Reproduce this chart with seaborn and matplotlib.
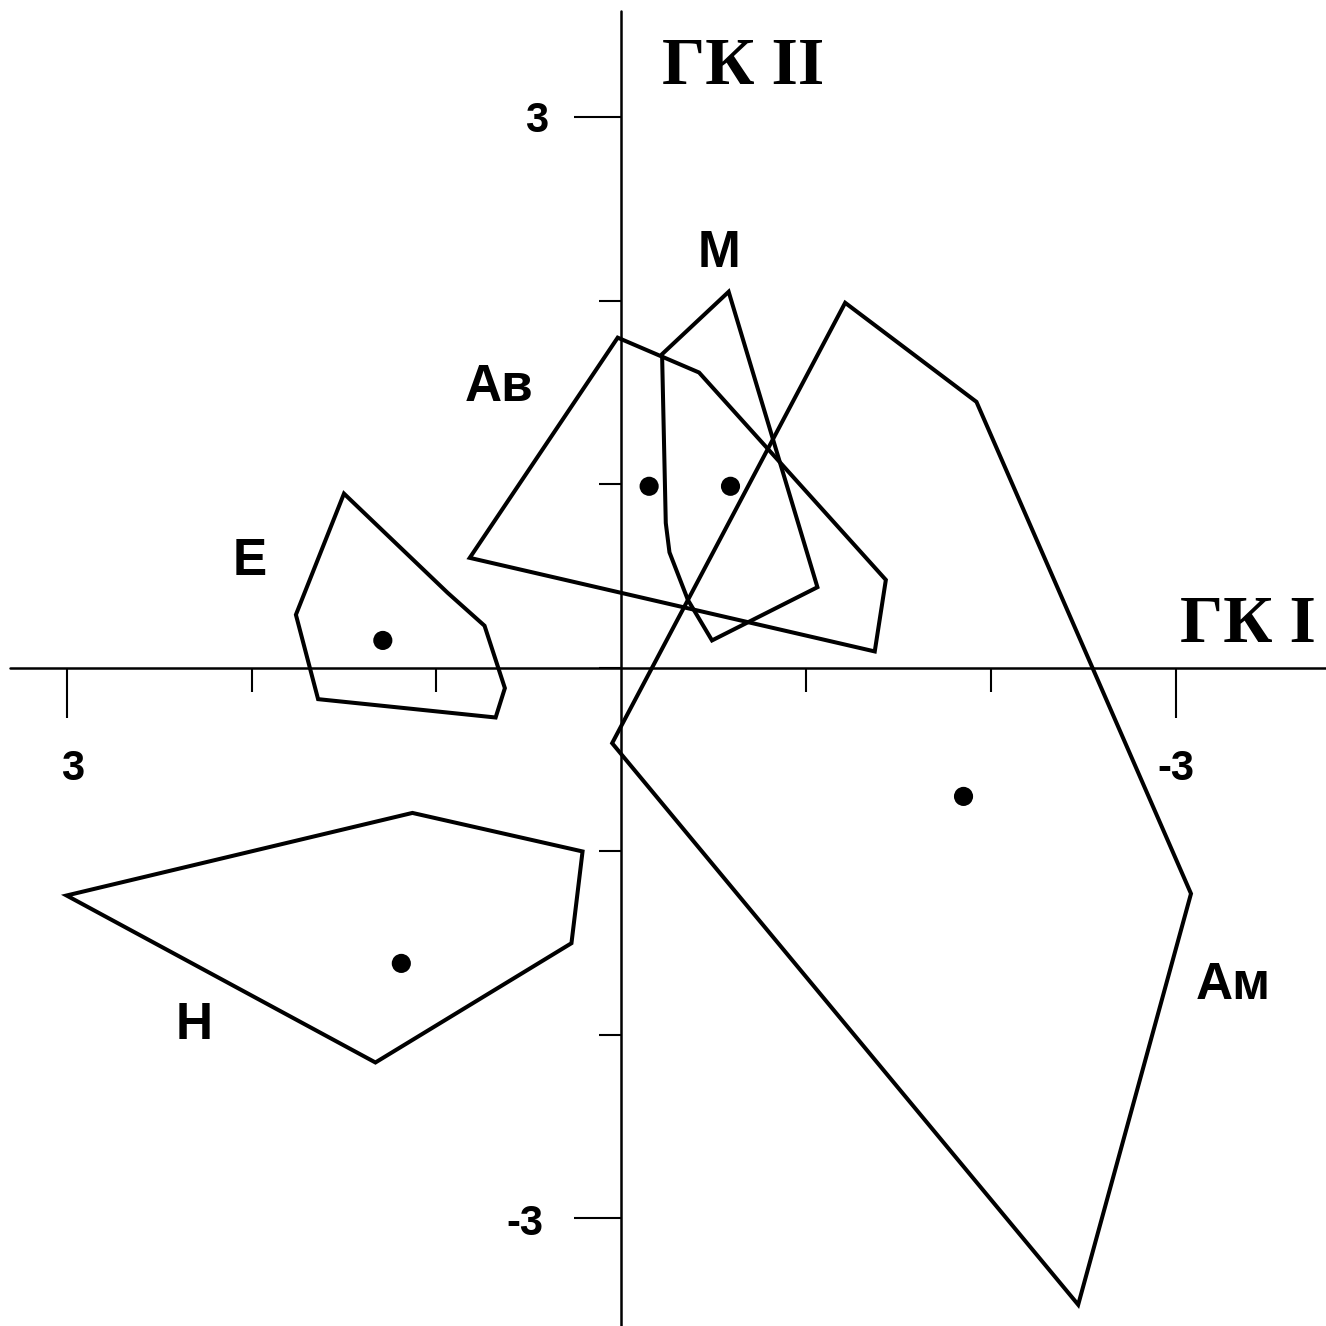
import pandas as pd
import numpy as np
import matplotlib.pyplot as plt
import seaborn as sns
from matplotlib.patches import Polygon

sns.set_style('white')
plt.rcParams['font.family'] = ['Liberation Sans', 'DejaVu Sans']
plt.rcParams['text.color'] = 'black'

# Group hulls on the first two principal components (ГК I, ГК II)
groups = ['Ав', 'М', 'Е', 'Ам', 'Н']

av_x = [0.02, -0.42, -1.43, -1.37, 0.82]
av_y = [1.80, 1.61, 0.48, 0.09, 0.60]

m_x = [-0.22, -0.58, -1.06, -0.49, -0.36, -0.26, -0.24]
m_y = [1.71, 2.05, 0.44, 0.15, 0.37, 0.63, 0.79]

e_x = [1.50, 0.94, 0.74, 0.63, 0.68, 1.64, 1.76]
e_y = [0.95, 0.41, 0.23, -0.11, -0.27, -0.17, 0.29]

am_x = [-1.21, -1.92, -3.08, -2.47, 0.05]
am_y = [1.99, 1.45, -1.23, -3.47, -0.41]

n_x = [3.00, 1.13, 0.21, 0.27, 1.33]
n_y = [-1.24, -0.79, -1.00, -1.50, -2.15]

# group centroids
cent_x = [-0.15, -0.59, 1.29, -1.85, 1.19]
cent_y = [0.99, 0.99, 0.15, -0.70, -1.61]

tick_vals = [3, 2, 1, 0, -1, -2, -3]

hulls = {'Ав': (av_x, av_y), 'М': (m_x, m_y), 'Е': (e_x, e_y),
         'Ам': (am_x, am_y), 'Н': (n_x, n_y)}

# where the group names sit
label_pos = {'Ав': (0.66, 1.53), 'М': (-0.53, 2.26), 'Е': (2.01, 0.58),
             'Ам': (-3.31, -1.73), 'Н': (2.31, -1.95)}

fig = plt.figure(figsize=(13.26, 13.26), dpi=100)
ax = fig.add_axes([0, 0, 1, 1])
ax.set_xlim(3.36, -3.81)
ax.set_ylim(-3.586, 3.640)
ax.axis('off')

# axes through the origin
ax.axhline(0, xmin=0.0075, xmax=1, color='black', lw=1.8)
ax.axvline(0, ymin=0, ymax=0.992, color='black', lw=1.8)

# tick marks: the +-3 ones are longer
for v in tick_vals:
    if v != 0:
        ln = 0.27 if abs(v) == 3 else 0.13
        ax.vlines(v, -ln, 0, color='black', lw=1.5)
    ln = 0.255 if abs(v) == 3 else 0.12
    ax.hlines(v, 0, ln, color='black', lw=1.5)

tk = dict(fontsize=30, fontweight='bold', ha='center', va='center')
ax.text(2.97, -0.55, '3', **tk)
ax.text(-3.00, -0.55, '-3', **tk)
ax.text(0.46, 2.98, '3', **tk)
ax.text(0.52, -3.03, '-3', **tk)

ax_lab = dict(fontsize=49, fontweight='bold', family='Liberation Serif',
              ha='center', va='center')
ax.text(-0.66, 3.27, 'ГК II', **ax_lab)
ax.text(-3.39, 0.23, 'ГК I', **ax_lab)

for g in groups:
    xs, ys = hulls[g]
    ax.add_patch(Polygon(np.column_stack([xs, ys]), closed=True, fill=False,
                         edgecolor='black', lw=2.9, joinstyle='miter'))
    lx, ly = label_pos[g]
    ax.text(lx, ly, g, fontsize=37, fontweight='bold', ha='center', va='center')

cent = pd.DataFrame({'group': groups, 'x': cent_x, 'y': cent_y})
sns.scatterplot(data=cent, x='x', y='y', s=190, color='black',
                edgecolor='none', ax=ax, legend=False)

plt.savefig('out.png', dpi=100, facecolor='white')
